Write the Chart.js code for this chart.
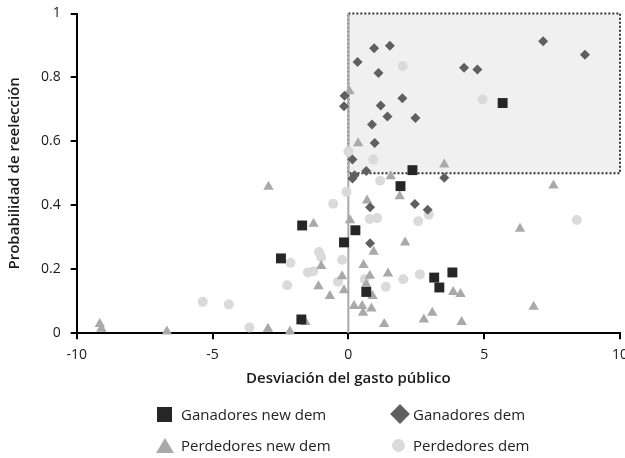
<!DOCTYPE html>
<html>
<head>
<meta charset="utf-8">
<script src="https://cdn.jsdelivr.net/npm/chart.js@4.4.0/dist/chart.umd.min.js"></script>
<style>
  html, body { margin: 0; padding: 0; background: #fff; overflow: hidden; }
  #wrap { position: relative; width: 625px; height: 458px; overflow: hidden; }
  #graph-area { position: absolute; left: 0; top: 0; }
  #legend { position: absolute; left: 0; top: 0; width: 625px; height: 458px; pointer-events: none;
            font-family: 'Open Sans', sans-serif; font-size: 15px; color: #222; }
  .item { position: absolute; height: 20px; line-height: 20px; white-space: nowrap; }
  .mark { position: absolute; }
  .label { position: absolute; left: 24px; top: 0; }
</style>
</head>
<body>
<div id="wrap">
  <canvas id="graph-area"></canvas>
  <div id="legend"></div>
</div>
<script>
// ---- data ----
const xTicks = [-10, -5, 0, 5, 10];
const yTicks = [0, 0.2, 0.4, 0.6, 0.8, 1];
const seriesNames = ['Ganadores new dem', 'Ganadores dem', 'Perdedores new dem', 'Perdedores dem'];

const ganadoresNewDem = [
  [5.68, 0.72], [2.36, 0.51], [1.92, 0.46], [-1.70, 0.337], [-0.16, 0.284], [0.26, 0.322],
  [-2.48, 0.234], [0.66, 0.129], [-1.73, 0.043], [3.16, 0.174], [3.35, 0.143], [3.83, 0.19]
];
const ganadoresDem = [
  [0.95, 0.891], [1.53, 0.899], [0.34, 0.848], [1.11, 0.814], [-0.14, 0.743], [-0.16, 0.71],
  [1.19, 0.712], [1.99, 0.735], [1.44, 0.678], [2.47, 0.673], [0.87, 0.653], [0.97, 0.595],
  [0.15, 0.543], [0.66, 0.507], [0.23, 0.494], [0.15, 0.484], [7.17, 0.913], [8.71, 0.871],
  [4.26, 0.83], [4.75, 0.825], [3.53, 0.486], [0.80, 0.394], [2.45, 0.404], [2.92, 0.386],
  [0.80, 0.281]
];
const perdedoresNewDem = [
  [0.04, 0.757], [0.36, 0.594], [1.56, 0.491], [3.53, 0.528], [-2.94, 0.458], [-1.28, 0.342],
  [0.06, 0.353], [-1.0, 0.21], [-0.23, 0.178], [-1.10, 0.147], [-0.68, 0.116], [-0.16, 0.134],
  [-9.15, 0.029], [-9.09, 0.014], [-6.68, 0.005], [-2.96, 0.014], [-2.15, 0.005], [-1.58, 0.035],
  [0.69, 0.415], [1.89, 0.428], [0.93, 0.255], [2.09, 0.284], [0.56, 0.213], [0.79, 0.18],
  [1.46, 0.187], [0.66, 0.153], [0.89, 0.116], [0.21, 0.085], [0.51, 0.085], [0.85, 0.077],
  [0.54, 0.064], [1.32, 0.029], [2.78, 0.043], [3.09, 0.064], [4.17, 0.035], [3.86, 0.129],
  [4.13, 0.123], [6.32, 0.327], [6.82, 0.083], [7.55, 0.462]
];
const perdedoresDem = [
  [2.0, 0.836], [0.0, 0.568], [0.92, 0.543], [1.17, 0.477], [4.94, 0.731], [-0.07, 0.442],
  [-0.56, 0.405], [-1.08, 0.254], [-1.0, 0.238], [-0.23, 0.23], [-2.13, 0.22], [-1.49, 0.19],
  [-1.29, 0.194], [-0.38, 0.161], [-2.25, 0.15], [-5.36, 0.098], [-4.40, 0.09], [-3.64, 0.018],
  [0.79, 0.357], [1.06, 0.36], [2.57, 0.35], [2.96, 0.371], [8.41, 0.354], [0.60, 0.169],
  [2.02, 0.169], [1.38, 0.145], [2.63, 0.184]
];
const zeroLine = [[0, 0], [0, 1]];
const zoneBox = {xMin: 0, xMax: 10, yMin: 0.5, yMax: 1};

// ---- styles ----
const styles = [
  {color: '#262626', shape: 'rect', radius: 7},
  {color: '#5f5f5f', shape: 'rectRot', radius: 5},
  {color: '#a9a9a9', shape: 'triangle', radius: 6},
  {color: '#dadada', shape: 'circle', radius: 5}
];
const FONT = "'Open Sans', sans-serif";

const toXY = pts => pts.map(p => ({x: p[0], y: p[1]}));

const zonePlugin = {
  id: 'zone',
  beforeDatasetsDraw(chart) {
    const {ctx, scales: {x, y}} = chart;
    const left = x.getPixelForValue(zoneBox.xMin);
    const right = x.getPixelForValue(zoneBox.xMax);
    const top = y.getPixelForValue(zoneBox.yMax);
    const bottom = y.getPixelForValue(zoneBox.yMin);
    ctx.save();
    ctx.fillStyle = '#f0f0f0';
    ctx.fillRect(left, top, right - left, bottom - top);
    ctx.setLineDash([2, 2]);
    ctx.lineWidth = 2;
    ctx.strokeStyle = '#333';
    ctx.strokeRect(left, top, right - left, bottom - top);
    ctx.restore();
  }
};

const seriesData = [ganadoresNewDem, ganadoresDem, perdedoresNewDem, perdedoresDem];
const datasets = seriesData.map((pts, i) => ({
  label: seriesNames[i],
  data: toXY(pts),
  pointStyle: styles[i].shape,
  pointRadius: styles[i].radius,
  pointBackgroundColor: styles[i].color,
  pointBorderWidth: 0,
  borderColor: styles[i].color,
  clip: false,
  order: i + 1
}));
datasets.push({
  label: 'zero',
  data: toXY(zeroLine),
  showLine: true,
  borderColor: '#a9a9a9',
  borderWidth: 2,
  pointRadius: 0,
  order: 10
});

const canvas = document.getElementById('graph-area');
canvas.width = 635;
canvas.height = 458;
canvas.style.width = '635px';
canvas.style.height = '458px';

new Chart(canvas.getContext('2d'), {
  type: 'scatter',
  data: {datasets},
  plugins: [zonePlugin],
  options: {
    responsive: false,
    animation: false,
    layout: {autoPadding: false, padding: {left: 2, top: 6.5, right: 2, bottom: 66}},
    plugins: {legend: {display: false}, tooltip: {enabled: false}},
    scales: {
      x: {
        min: xTicks[0], max: xTicks[xTicks.length - 1],
        afterBuildTicks: s => { s.ticks = xTicks.map(v => ({value: v})); },
        grid: {drawOnChartArea: false, drawTicks: true, tickLength: 6, color: '#000', lineWidth: 2},
        border: {display: true, color: '#000', width: 2},
        ticks: {color: '#1a1a1a', font: {family: FONT, size: 14}, padding: 7, maxRotation: 0},
        title: {display: true, text: 'Desviación del gasto público', color: '#1a1a1a',
                font: {family: FONT, size: 15, weight: '600'}, padding: {top: 0}}
      },
      y: {
        min: 0, max: 1,
        afterBuildTicks: s => { s.ticks = yTicks.map(v => ({value: v})); },
        afterFit: s => { s.paddingTop = 13.5; },
        grid: {drawOnChartArea: false, drawTicks: true, tickLength: 6, color: '#000', lineWidth: 2},
        border: {display: true, color: '#000', width: 2},
        ticks: {color: '#1a1a1a', font: {family: FONT, size: 14}, padding: 10,
                callback: v => String(+v.toFixed(2))},
        title: {display: true, text: 'Probabilidad de reelección', color: '#1a1a1a',
                font: {family: FONT, size: 15, weight: '600'}, padding: {bottom: 7}}
      }
    }
  }
});

// ---- legend (2 x 2 grid under the plot) ----
const legendPos = [[157, 404], [389, 404], [157, 435], [389, 435]];
const legend = document.getElementById('legend');
seriesNames.forEach((name, i) => {
  const item = document.createElement('div');
  item.className = 'item';
  item.style.left = legendPos[i][0] + 'px';
  item.style.top = legendPos[i][1] + 'px';
  const mark = document.createElement('div');
  mark.className = 'mark';
  const c = styles[i].color;
  if (styles[i].shape === 'rect') {
    Object.assign(mark.style, {left: '0px', top: '3px', width: '15px', height: '15px', background: c});
  } else if (styles[i].shape === 'rectRot') {
    Object.assign(mark.style, {left: '4px', top: '3px', width: '14px', height: '14px', background: c,
                               transform: 'rotate(45deg)'});
  } else if (styles[i].shape === 'triangle') {
    Object.assign(mark.style, {left: '-1px', top: '3px', width: '0px', height: '0px',
                               borderLeft: '9px solid transparent', borderRight: '9px solid transparent',
                               borderBottom: '15px solid ' + c});
  } else {
    Object.assign(mark.style, {left: '3px', top: '4px', width: '13px', height: '13px', background: c,
                               borderRadius: '50%'});
  }
  const label = document.createElement('span');
  label.className = 'label';
  label.textContent = name;
  item.appendChild(mark);
  item.appendChild(label);
  legend.appendChild(item);
});
</script>
</body>
</html>
